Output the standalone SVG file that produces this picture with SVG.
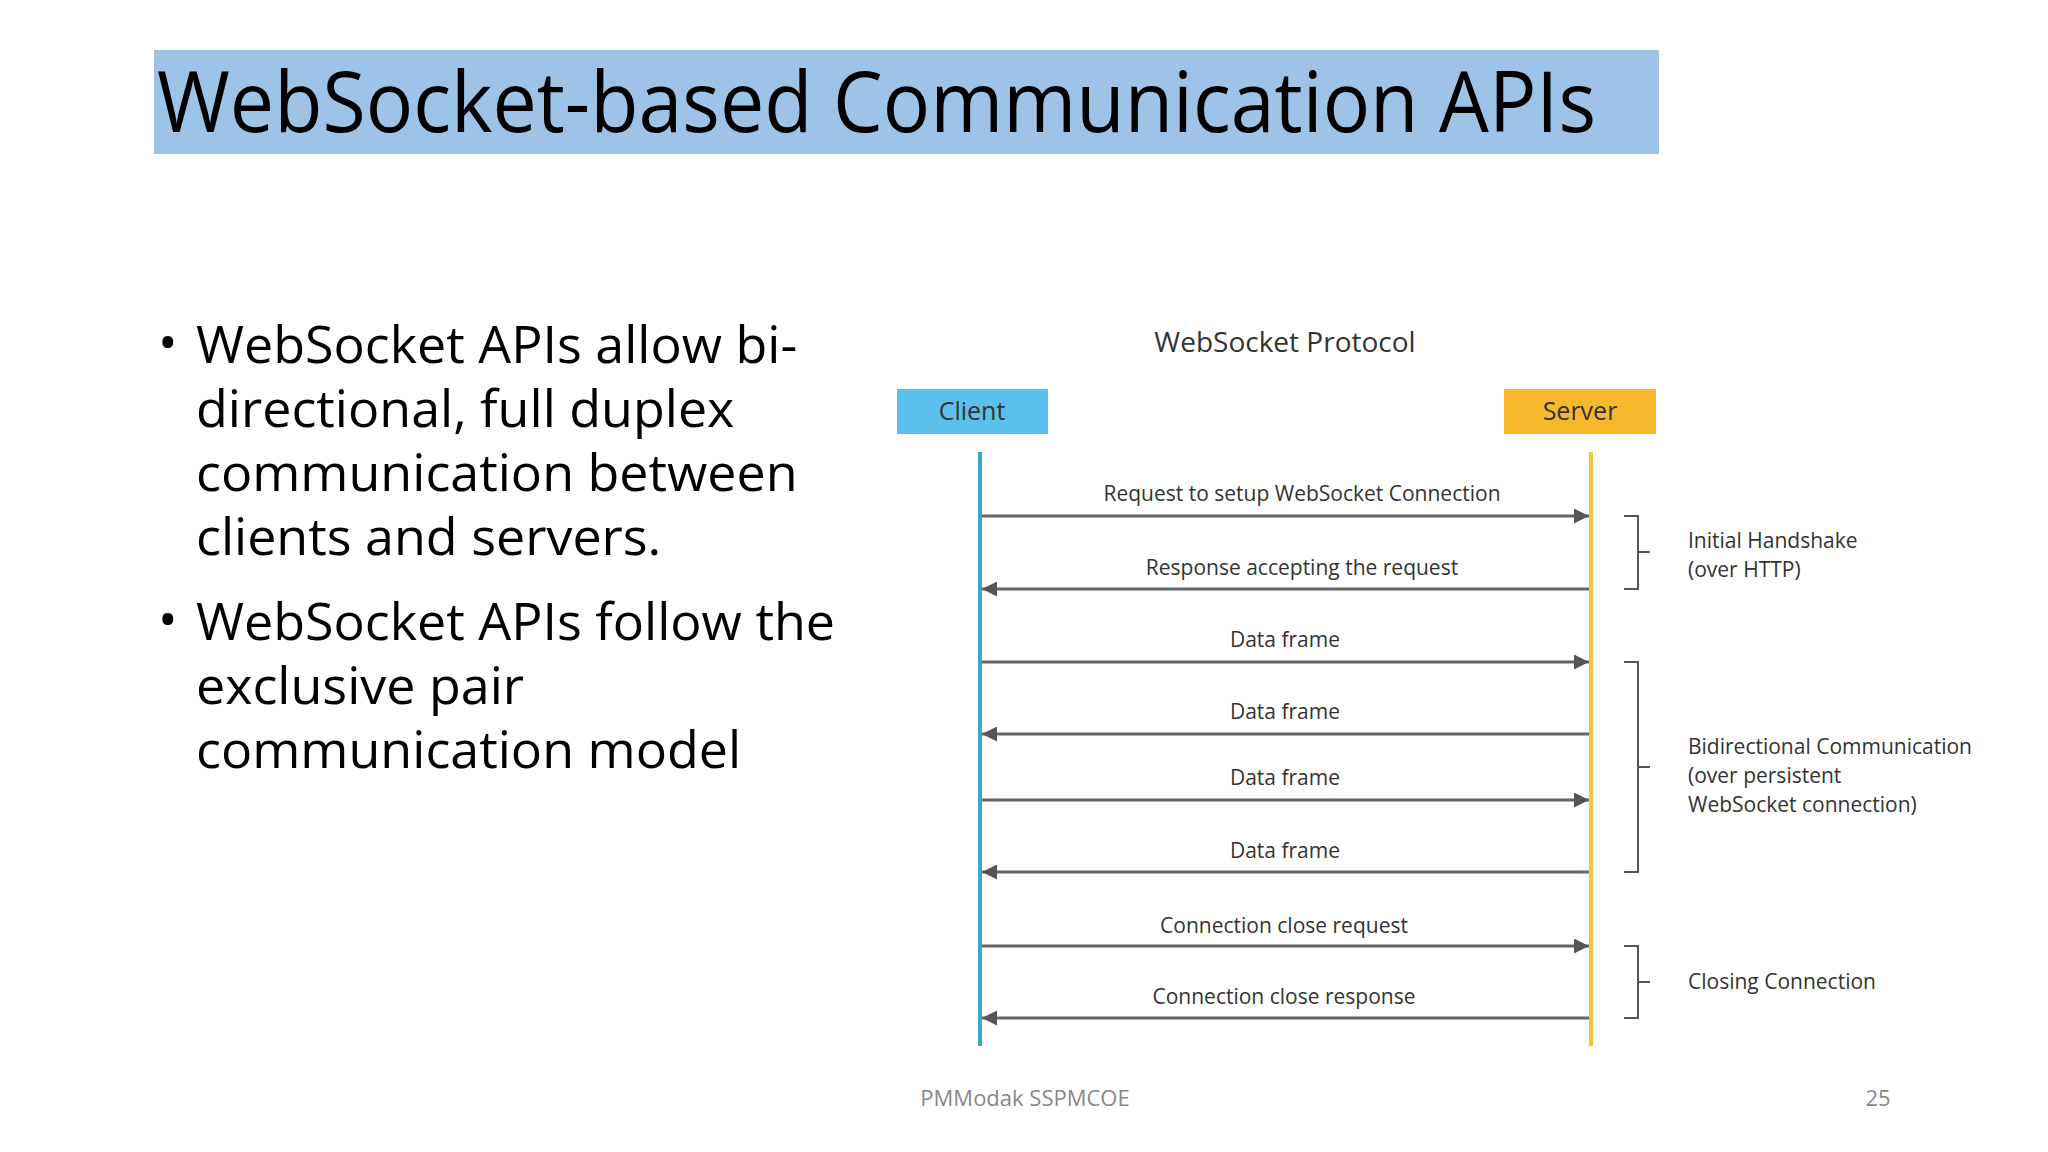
<svg xmlns="http://www.w3.org/2000/svg" width="2048" height="1152" viewBox="0 0 2048 1152">
<defs>
<style>
.t{font-family:"Open Sans","Liberation Sans",sans-serif;fill:#333}
.lbl{font-size:21px;text-anchor:middle}
.side{font-size:21px}
.b{font-family:"Open Sans","Liberation Sans",sans-serif;font-size:52px;fill:#000}
.arr{stroke:#666;stroke-width:3;fill:none}
.br{stroke:#555;stroke-width:2;fill:none}
</style>
<marker id="ah" viewBox="0 0 10 10" refX="10" refY="5" markerWidth="5" markerHeight="5" orient="auto-start-reverse"><path d="M0,0L10,5L0,10z" fill="#555"/></marker>
</defs>
<rect width="2048" height="1152" fill="#fff"/>
<g id="title">
<rect x="154" y="50" width="1505" height="104" fill="#9dc3e6"/>
<text x="157" y="132" font-family="Open Sans, Liberation Sans, sans-serif" font-size="84" textLength="1439" lengthAdjust="spacingAndGlyphs" fill="#000">WebSocket-based Communication APIs</text>
</g>
<g id="bullets">
<text class="b" x="158" y="361">•</text>
<text class="b" x="196" y="363">WebSocket APIs allow bi-</text>
<text class="b" x="196" y="427">directional, full duplex</text>
<text class="b" x="196" y="491">communication between</text>
<text class="b" x="196" y="555">clients and servers.</text>
<text class="b" x="158" y="638">•</text>
<text class="b" x="196" y="640">WebSocket APIs follow the</text>
<text class="b" x="196" y="704">exclusive pair</text>
<text class="b" x="196" y="768">communication model</text>
</g>
<text class="t" x="1285" y="352" font-size="28" text-anchor="middle">WebSocket Protocol</text>
<g id="client">
<rect x="897" y="389" width="151" height="45" fill="#5bc0eb"/>
<text class="t" x="972" y="420" font-size="25" text-anchor="middle">Client</text>
<line x1="980" y1="452" x2="980" y2="1046" stroke="#3aa6c8" stroke-width="4"/>
</g>
<g id="server">
<rect x="1504" y="389" width="152" height="45" fill="#f7b92b"/>
<text class="t" x="1580" y="420" font-size="25" text-anchor="middle">Server</text>
<line x1="1591" y1="452" x2="1591" y2="1046" stroke="#f2c53d" stroke-width="4"/>
</g>
<g id="connectors">
<line class="arr" x1="982" y1="516" x2="1589" y2="516" marker-end="url(#ah)"/>
<line class="arr" x1="982" y1="589" x2="1589" y2="589" marker-start="url(#ah)"/>
<line class="arr" x1="982" y1="662" x2="1589" y2="662" marker-end="url(#ah)"/>
<line class="arr" x1="982" y1="734" x2="1589" y2="734" marker-start="url(#ah)"/>
<line class="arr" x1="982" y1="800" x2="1589" y2="800" marker-end="url(#ah)"/>
<line class="arr" x1="982" y1="872" x2="1589" y2="872" marker-start="url(#ah)"/>
<line class="arr" x1="982" y1="946" x2="1589" y2="946" marker-end="url(#ah)"/>
<line class="arr" x1="982" y1="1018" x2="1589" y2="1018" marker-start="url(#ah)"/>
<path class="br" d="M1624,516h14v36h12M1638,552v37h-14"/>
<path class="br" d="M1624,662h14v105h12M1638,767v105h-14"/>
<path class="br" d="M1624,946h14v36h12M1638,982v36h-14"/>
</g>
<g id="labels">
<text class="t lbl" x="1302" y="501">Request to setup WebSocket Connection</text>
<text class="t lbl" x="1302" y="575">Response accepting the request</text>
<text class="t lbl" x="1285" y="647">Data frame</text>
<text class="t lbl" x="1285" y="719">Data frame</text>
<text class="t lbl" x="1285" y="785">Data frame</text>
<text class="t lbl" x="1285" y="858">Data frame</text>
<text class="t lbl" x="1284" y="933">Connection close request</text>
<text class="t lbl" x="1284" y="1004">Connection close response</text>
<text class="t side" x="1688" y="548">Initial Handshake</text>
<text class="t side" x="1688" y="577">(over HTTP)</text>
<text class="t side" x="1688" y="754">Bidirectional Communication</text>
<text class="t side" x="1688" y="783">(over persistent</text>
<text class="t side" x="1688" y="812">WebSocket connection)</text>
<text class="t side" x="1688" y="989">Closing Connection</text>
</g>
<text x="1025" y="1106" font-family="Open Sans, Liberation Sans, sans-serif" font-size="22" fill="#888" text-anchor="middle">PMModak SSPMCOE</text>
<text x="1878" y="1106" font-family="Open Sans, Liberation Sans, sans-serif" font-size="22" fill="#888" text-anchor="middle">25</text>
</svg>
